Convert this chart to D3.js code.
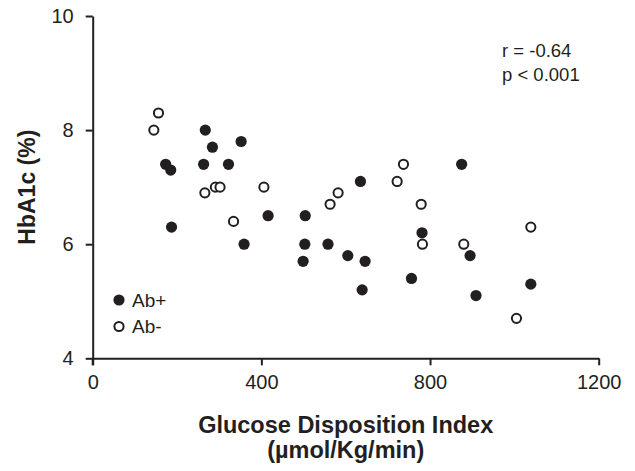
<!DOCTYPE html>
<html>
<head>
<meta charset="utf-8">
<script src="https://cdn.jsdelivr.net/npm/d3@7"></script>
<style>
  html, body { margin: 0; padding: 0; background: #fff; }
  svg { display: block; }
  text { font-family: "Liberation Sans", Arial, sans-serif; fill: #231f20; }
</style>
</head>
<body>
<svg id="chart" width="635" height="471"></svg>
<script>
// Data
const abPosX = [267, 284, 352, 173, 185, 263, 322, 635, 187, 359, 416, 504, 503, 499, 558, 605, 646, 639, 781, 756, 895, 909, 1039, 875];
const abPosY = [8.0, 7.7, 7.8, 7.4, 7.3, 7.4, 7.4, 7.1, 6.3, 6.0, 6.5, 6.5, 6.0, 5.7, 6.0, 5.8, 5.7, 5.2, 6.2, 5.4, 5.8, 5.1, 5.3, 7.4];
const abNegX = [156, 145, 266, 291, 302, 406, 582, 563, 334, 737, 722, 779, 782, 880, 1039, 1005];
const abNegY = [8.3, 8.0, 6.9, 7.0, 7.0, 7.0, 6.9, 6.7, 6.4, 7.4, 7.1, 6.7, 6.0, 6.0, 6.3, 4.7];
const xTicks = [0, 400, 800, 1200];
const yTicks = [4, 6, 8, 10];
const seriesNames = ["Ab+", "Ab-"];
const statLines = ["r = -0.64", "p < 0.001"];
const xTitleLines = ["Glucose Disposition Index", "(\u00b5mol/Kg/min)"];
const yTitle = "HbA1c (%)";

const ink = "#231f20";
const svg = d3.select("#chart");
const x = d3.scaleLinear().domain([0, 1200]).range([92.7, 598.7]);
const y = d3.scaleLinear().domain([4, 10]).range([358.3, 16]);

// Axes
const xAxis = svg.append("g").attr("transform", `translate(0,${y(4)})`)
  .call(d3.axisBottom(x).tickValues(xTicks).tickSize(7).tickSizeOuter(0).tickPadding(10).tickFormat(d3.format("d")));
const yAxis = svg.append("g").attr("transform", `translate(${x(0)},0)`)
  .call(d3.axisLeft(y).tickValues(yTicks).tickSize(7).tickSizeOuter(0).tickPadding(12).tickFormat(d3.format("d")));
[xAxis, yAxis].forEach(g => {
  g.select(".domain").attr("stroke", ink).attr("stroke-width", 2);
  g.selectAll(".tick line").attr("stroke", ink).attr("stroke-width", 2);
  g.selectAll(".tick text").attr("fill", ink).style("font-size", "20px")
    .style("font-family", '"Liberation Sans", Arial, sans-serif');
});
// extend y axis down to meet the x tick at 0
svg.append("line").attr("x1", x(0)).attr("x2", x(0)).attr("y1", y(4)).attr("y2", y(4) + 7)
  .attr("stroke", ink).attr("stroke-width", 2);

// Points
const pos = abPosX.map((v, i) => ({x: v, y: abPosY[i]}));
const neg = abNegX.map((v, i) => ({x: v, y: abNegY[i]}));
svg.append("g").selectAll("circle").data(neg).join("circle")
  .attr("cx", d => x(d.x)).attr("cy", d => y(d.y)).attr("r", 4.6)
  .attr("fill", "#fff").attr("stroke", ink).attr("stroke-width", 2);
svg.append("g").selectAll("circle").data(pos).join("circle")
  .attr("cx", d => x(d.x)).attr("cy", d => y(d.y)).attr("r", 5.6)
  .attr("fill", ink);

// Legend
const leg = svg.append("g");
leg.append("circle").attr("cx", 119).attr("cy", 300).attr("r", 5.6).attr("fill", ink);
leg.append("circle").attr("cx", 119).attr("cy", 326.5).attr("r", 4.6).attr("fill", "#fff").attr("stroke", ink).attr("stroke-width", 2);
leg.append("text").attr("x", 132).attr("y", 306.5).style("font-size", "19px").text(seriesNames[0]);
leg.append("text").attr("x", 132).attr("y", 333).style("font-size", "19px").text(seriesNames[1]);

// Stats annotation
svg.append("g").selectAll("text").data(statLines).join("text")
  .attr("x", 502).attr("y", (d, i) => 57 + i * 23.5).style("font-size", "18.5px").text(d => d);

// Axis titles
svg.append("g").selectAll("text").data(xTitleLines).join("text")
  .attr("x", (x(0) + x(1200)) / 2).attr("y", (d, i) => 433 + i * 25)
  .attr("text-anchor", "middle").style("font-size", "23.5px").style("font-weight", "bold").text(d => d);
svg.append("text")
  .attr("transform", `translate(35,${(y(4) + y(10)) / 2}) rotate(-90)`)
  .attr("text-anchor", "middle").style("font-size", "23px").style("font-weight", "bold").text(yTitle);
</script>
</body>
</html>
